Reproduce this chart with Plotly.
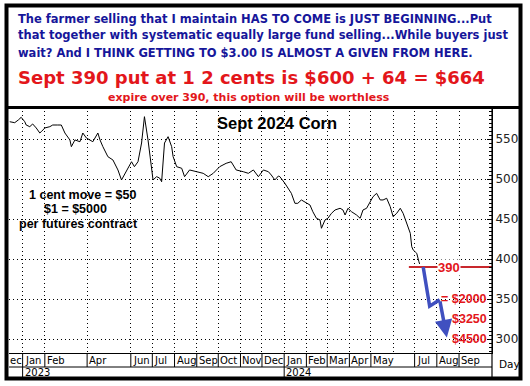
import plotly.graph_objects as go

# ---------------- data ----------------
dates = ["2022-12-14","2022-12-21","2022-12-26","2022-12-30","2023-01-04","2023-01-06","2023-01-11","2023-01-15","2023-01-20","2023-01-25",
         "2023-01-27","2023-02-01","2023-02-08","2023-02-12","2023-02-19","2023-02-24","2023-03-01","2023-03-08","2023-03-10","2023-03-15",
         "2023-03-22","2023-03-26","2023-03-31","2023-04-05","2023-04-09","2023-04-16","2023-04-19","2023-04-23","2023-04-30","2023-05-07",
         "2023-05-14","2023-05-19","2023-05-23","2023-05-28","2023-06-02","2023-06-06","2023-06-11","2023-06-16","2023-06-20","2023-06-25",
         "2023-06-30","2023-07-02","2023-07-07","2023-07-11","2023-07-14","2023-07-18","2023-07-23","2023-07-28","2023-07-30","2023-08-04",
         "2023-08-11","2023-08-15","2023-08-22","2023-09-01","2023-09-10","2023-09-17","2023-09-24","2023-10-03","2023-10-12","2023-10-19",
         "2023-10-26","2023-11-05","2023-11-12","2023-11-19","2023-11-26","2023-12-03","2023-12-10","2023-12-14","2023-12-19","2023-12-24",
         "2023-12-26","2024-01-02","2024-01-06","2024-01-11","2024-01-16","2024-01-20","2024-01-25","2024-01-30","2024-02-06","2024-02-10",
         "2024-02-15","2024-02-20","2024-02-22","2024-02-27","2024-03-02","2024-03-07","2024-03-12","2024-03-19","2024-03-23","2024-03-26",
         "2024-03-30","2024-04-04","2024-04-11","2024-04-16","2024-04-20","2024-04-25","2024-04-30","2024-05-04","2024-05-09","2024-05-14",
         "2024-05-18","2024-05-23","2024-05-28","2024-06-01","2024-06-06","2024-06-11","2024-06-15","2024-06-20","2024-06-25","2024-06-27",
         "2024-06-29","2024-07-02","2024-07-04","2024-07-07","2024-07-08"]
prices = [571.6,570.4,573.8,577.1,571.6,567.5,565.4,568.8,563.8,557.5,
          559.1,563.8,565.4,567.5,567.5,567.5,557.5,548.8,540.4,548.8,
          546.6,557.5,551.3,548.8,546.6,557.5,548.8,540.4,527.9,523.8,
          511.3,498.8,505,513.8,521.6,515.4,521.6,545,577.9,548.8,
          515.4,498.8,502.9,501.3,496.6,545,552.9,540.4,527.9,515.4,
          513.4,502.9,511.3,509.1,507.1,502.9,507.1,515.4,519.6,521.6,
          511.3,509.1,507.1,511.3,502.9,511.3,509.1,505,498.8,503.8,
          502.9,494.6,488.4,482.1,469.6,469.6,473.8,471.6,467.5,459.1,
          450.9,448.8,438.4,448.8,450.9,457.1,461.3,463.4,461.3,455,
          463.4,459.1,455,450.9,461.3,463.4,471.6,477.9,482.1,473.8,
          473.8,475.9,465.4,452.9,457.1,463.4,457.1,444.6,432.1,415.4,
          411.3,408.8,407.1,396.6,393.8]

strike = 390
strike_x = ["2024-06-23", "2024-10-17"]
proj_dates = ["2024-07-13", "2024-07-22", "2024-08-05"]
proj_values = [390, 341, 349]
arrow_end = ("2024-08-15", 302)

payoff_levels = [350, 325, 300]
payoff_labels = ["= $2000", "$3250", "$4500"]

ytick_vals = [300, 350, 400, 450, 500, 550]
grid_months = ["2023-01-01","2023-02-01","2023-04-01","2023-06-01","2023-07-01","2023-08-01","2023-09-01",
               "2023-10-01","2023-11-01","2023-12-01","2024-01-01","2024-02-01","2024-03-01","2024-04-01",
               "2024-05-01","2024-06-01","2024-07-01","2024-08-01","2024-09-01"]
month_ticks = ["2023-01-01","2023-02-01","2023-04-01","2023-06-01","2023-07-01","2023-08-01","2023-09-01",
               "2023-10-01","2023-11-01","2023-12-01","2024-01-01","2024-02-01","2024-03-01","2024-04-01",
               "2024-05-01","2024-07-01","2024-08-01","2024-09-01"]
month_labels = ["Jan","Feb","Apr","Jun","Jul","Aug","Sep","Oct","Nov","Dec",
                "Jan","Feb","Mar","Apr","May","Jul","Aug","Sep"]
year_ticks = ["2023-01-01", "2024-01-01"]
year_labels = ["2023", "2024"]

header_lines = ["The farmer selling that I maintain HAS TO COME is JUST BEGINNING...Put",
                "that together with systematic equally large fund selling...While buyers just",
                "wait? And I THINK GETTING TO $3.00 IS ALMOST A GIVEN FROM HERE."]
headline = "Sept 390 put at 1 2 cents is $600 + 64 = $664"
subline = "expire over 390, this option will be worthless"
title = "Sept 2024 Corn"
note_lines = ["1 cent move = $50", "$1 = $5000", "per futures contract"]

# ---------------- geometry helpers ----------------
L, R, T, B = 9, 492, 107, 353
W, H = R - L, B - T
def px(x): return (x - L) / W
def py(y): return (B - y) / H

BLUE_TXT = "#16169a"
RED_TXT = "#e3161b"
ARROW = "#4050c0"

fig = go.Figure()
fig.add_trace(go.Scatter(x=dates, y=prices, mode="lines",
                         line=dict(color="black", width=1), hoverinfo="skip"))
fig.add_trace(go.Scatter(x=strike_x, y=[strike, strike], mode="lines",
                         line=dict(color="#c8282d", width=2), hoverinfo="skip"))
fig.add_trace(go.Scatter(x=proj_dates, y=proj_values, mode="lines",
                         line=dict(color=ARROW, width=3.5), hoverinfo="skip"))

ann = []
ann.append(dict(x=arrow_end[0], y=arrow_end[1], ax=proj_dates[-1], ay=proj_values[-1],
                xref="x", yref="y", axref="x", ayref="y", text="", showarrow=True,
                arrowhead=2, arrowsize=1, arrowwidth=3.5, arrowcolor=ARROW))

# header text
for i, (t, yc) in enumerate(zip(header_lines, [19, 35.5, 52.5])):
    ann.append(dict(x=px(16), y=py(yc), xref="paper", yref="paper", text=t, showarrow=False,
                    xanchor="left", yanchor="middle",
                    font=dict(family="DejaVu Sans", size=11.5, color=BLUE_TXT, weight="bold")))
ann.append(dict(x=px(251), y=py(77.5), xref="paper", yref="paper", text=headline, showarrow=False,
                xanchor="center", yanchor="middle",
                font=dict(family="DejaVu Sans", size=18, color=RED_TXT, weight="bold")))
ann.append(dict(x=px(249), y=py(97.5), xref="paper", yref="paper", text=subline, showarrow=False,
                xanchor="center", yanchor="middle",
                font=dict(family="DejaVu Sans", size=11, color=RED_TXT, weight="bold")))

# chart title and notes
ann.append(dict(x=px(277), y=py(122.5), xref="paper", yref="paper", text=title, showarrow=False,
                xanchor="center", yanchor="middle",
                font=dict(family="Liberation Sans", size=16.5, color="black", weight="bold")))
for t, xc, yc in zip(note_lines, [82, 75, 78], [194.5, 209, 224]):
    ann.append(dict(x=px(xc), y=py(yc), xref="paper", yref="paper", text=t, showarrow=False,
                    xanchor="center", yanchor="middle",
                    font=dict(family="Liberation Sans", size=12.5, color="black", weight="bold")))

# strike and payoff labels
ann.append(dict(x="2024-08-18", y=strike, xref="x", yref="y", text=str(strike), showarrow=False,
                bgcolor="white", borderpad=0,
                font=dict(family="Liberation Sans", size=13, color=RED_TXT, weight="bold")))
for lvl, lab in zip(payoff_levels, payoff_labels):
    ann.append(dict(x=px(489), y=lvl, xref="paper", yref="y", text=lab, showarrow=False,
                    xanchor="right", yanchor="middle",
                    font=dict(family="Liberation Sans", size=12.5, color=RED_TXT, weight="bold")))

# month / year labels
tick_font = dict(family="DejaVu Sans", size=10, color="black")
for d, lab in zip(month_ticks, month_labels):
    ann.append(dict(x=d, y=py(360.5), xref="x", yref="paper", text=lab, showarrow=False,
                    xanchor="left", yanchor="middle", xshift=0, font=tick_font))
ann.append(dict(x=px(8), y=py(360.5), xref="paper", yref="paper", text="ec", showarrow=False,
                xanchor="left", yanchor="middle", font=tick_font))
for d, lab in zip(year_ticks, year_labels):
    ann.append(dict(x=d, y=py(372.5), xref="x", yref="paper", text=lab, showarrow=False,
                    xanchor="left", yanchor="middle", font=tick_font))
ann.append(dict(x=px(509), y=py(363.5), xref="paper", yref="paper", text="Day", showarrow=False,
                xanchor="center", yanchor="middle", font=dict(family="DejaVu Sans", size=10.5, color="black")))

shapes = []
# outer frame
shapes.append(dict(type="rect", xref="paper", yref="paper", x0=px(6.5), x1=px(520.5),
                   y0=py(378.5), y1=py(5.5), line=dict(color="black", width=4), layer="above"))
# separator above plot
shapes.append(dict(type="line", xref="paper", yref="paper", x0=px(5), x1=px(522),
                   y0=py(107.5), y1=py(107.5), line=dict(color="black", width=3), layer="above"))
# axis line extending to bottom
shapes.append(dict(type="line", xref="paper", yref="paper", x0=1, x1=1, y0=py(378), y1=1,
                   line=dict(color="black", width=1.2), layer="above"))
# month row bottom line
shapes.append(dict(type="line", xref="paper", yref="paper", x0=0, x1=1, y0=py(367), y1=py(367),
                   line=dict(color="black", width=1), layer="above"))
for d in month_ticks:
    shapes.append(dict(type="line", xref="x", yref="paper", x0=d, x1=d, y0=0, y1=py(367),
                       line=dict(color="black", width=1), layer="above"))
for d in year_ticks:
    shapes.append(dict(type="line", xref="x", yref="paper", x0=d, x1=d, y0=py(367), y1=py(377),
                       line=dict(color="black", width=1), layer="above"))

fig.update_layout(
    width=530, height=386,
    margin=dict(l=L, r=530 - R, t=T, b=386 - B),
    paper_bgcolor="white", plot_bgcolor="white",
    showlegend=False,
    annotations=ann, shapes=shapes,
    xaxis=dict(type="date", range=["2022-12-13", "2024-10-17"],
               tickvals=grid_months, showticklabels=False, ticks="",
               showgrid=True, gridcolor="black", gridwidth=1, griddash="1px,3px",
               showline=True, linecolor="black", linewidth=1, zeroline=False, fixedrange=True),
    yaxis=dict(range=[282.5, 590], side="right", tickvals=ytick_vals,
               showgrid=True, gridcolor="black", gridwidth=1, griddash="1px,3px",
               ticks="inside", ticklen=5, tickcolor="black",
               minor=dict(dtick=5, tick0=0, ticks="inside", ticklen=3, tickcolor="black", showgrid=False),
               tickfont=dict(family="DejaVu Sans", size=12, color="#222"),
               showline=True, linecolor="black", linewidth=1, zeroline=False, fixedrange=True),
)

fig.write_html("out.html", config={"displayModeBar": False},
               post_script="document.body.style.margin='0';document.body.style.overflow='hidden';")
